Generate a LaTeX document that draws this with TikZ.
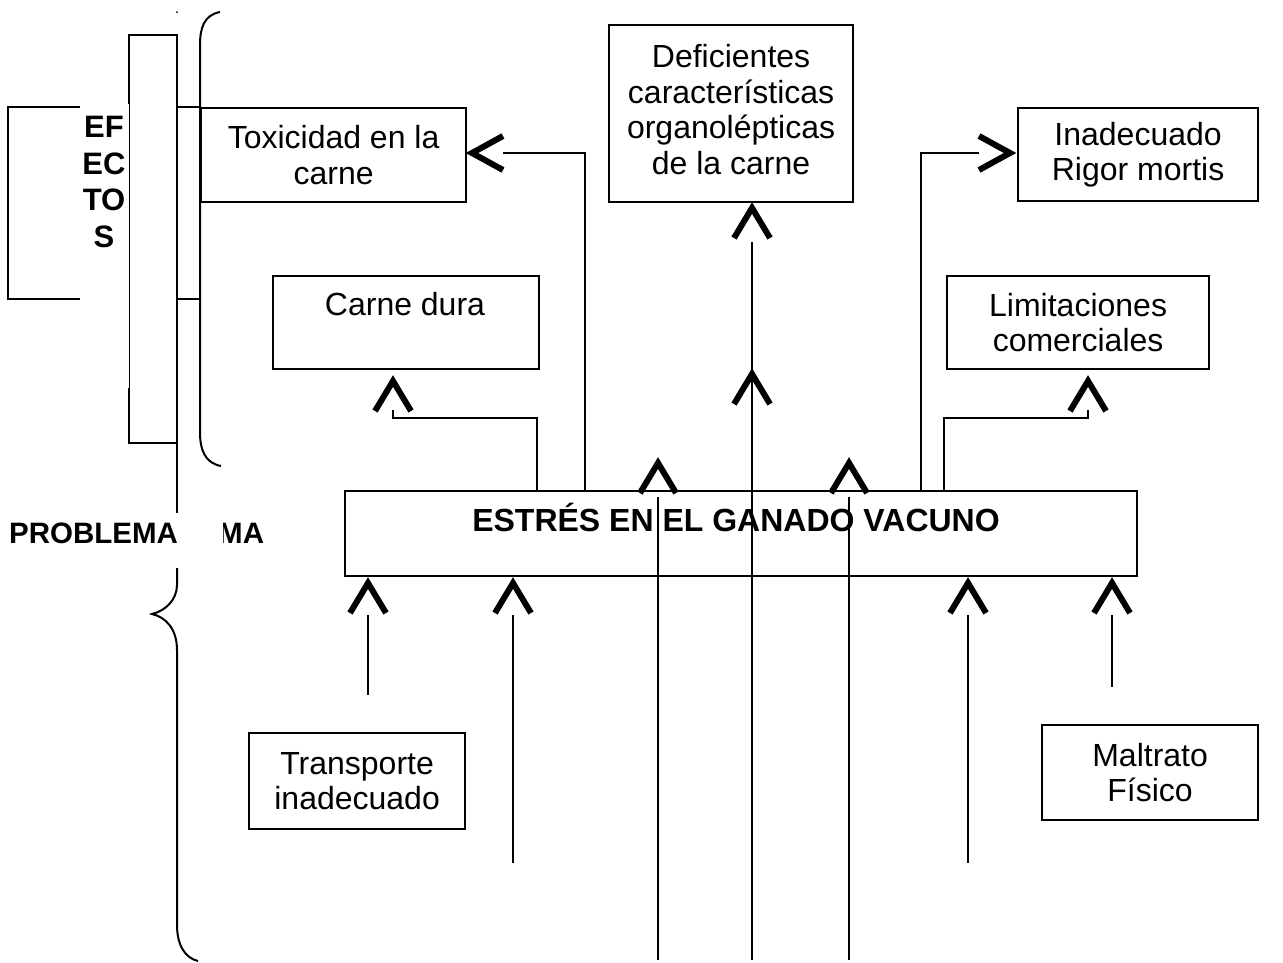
\documentclass[tikz,border=0pt]{standalone}
\usepackage{fontspec}
\setmainfont{Liberation Sans}
\newcommand{\chevU}[2]{\draw[chev] (#1-18,#2+35) -- (#1,#2+5) -- (#1+18,#2+35);}
\newcommand{\chevL}[2]{\draw[chev] (#1+36,#2-17) -- (#1+5,#2) -- (#1+36,#2+17);}
\newcommand{\chevR}[2]{\draw[chev] (#1-36,#2-17) -- (#1-5,#2) -- (#1-36,#2+17);}
\begin{document}
\begin{tikzpicture}[x=1pt,y=-1pt,
  box/.style={draw, line width=2.2pt, inner sep=0pt, anchor=north west},
  txt/.style={font=\fontsize{32}{35.5}\selectfont, align=center, inner sep=0pt},
  btxt/.style={font=\bfseries\fontsize{32}{36}\selectfont, inner sep=0pt},
  conn/.style={line width=2pt},
  bline/.style={line width=2pt},
  chev/.style={line width=6pt, line join=miter, line cap=butt}]
\useasboundingbox (0,0) rectangle (1283,962);

% ---------- left frame ----------
\draw[bline] (8,107) rectangle (129,299);
\draw[bline] (129,35) rectangle (177,443);
\fill[white] (80,104) rectangle (128.6,388);
\node[font=\bfseries\fontsize{31}{36.5}\selectfont, align=center, inner sep=0pt] (efectos) at (104,182) {EF\\EC\\TO\\S};
\fill (177,12) circle (1);
\draw[bline] (177,107) -- (200,107);
\draw[bline] (177,299) -- (200,299);
\draw[bline] (220,12) .. controls (204,15) and (200,28) .. (200,45) -- (200,432) .. controls (200,450) and (205,463) .. (221,466);
\draw[bline] (177,443) -- (177,515);
\draw[bline] (177,565) -- (177,585) .. controls (177,600) and (165,611) .. (152,614) .. controls (165,617) and (177,628) .. (177,650) -- (177,925) .. controls (177,945) and (185,958) .. (198,961);
\node[font=\bfseries\fontsize{29.5}{32}\selectfont, inner sep=0pt, anchor=base west] (ma) at (218,543) {MA};
\fill[white] (150,513) rectangle (223,568);
\node[font=\bfseries\fontsize{29.5}{32}\selectfont, inner sep=0pt, anchor=base west] (problema) at (9,543) {PROBLEMA};

% ---------- boxes ----------
\node[box, minimum width=265, minimum height=94] (tox) at (200,107) {};
\node[txt] (toxt) at (tox.center) {Toxicidad en la\\carne};
\node[box, minimum width=244, minimum height=177] (def) at (608,24) {};
\node[txt, yshift=4pt] (deft) at (def.center) {Deficientes\\características\\organolépticas\\de la carne};
\node[box, minimum width=240, minimum height=93] (rig) at (1017,107) {};
\node[txt] (rigt) at (rig.center) {Inadecuado\\Rigor mortis};
\node[box, minimum width=266, minimum height=93] (dura) at (272,275) {};
\node[txt, anchor=base] (durat) at (405,315) {Carne dura};
\node[box, minimum width=262, minimum height=93] (lim) at (946,275) {};
\node[txt] (limt) at (lim.center) {Limitaciones\\comerciales};
\node[box, minimum width=792, minimum height=85] (estres) at (344,490) {};
\node[btxt, anchor=base] (estrest) at (736,531) {ESTRÉS EN EL GANADO VACUNO};
\node[box, minimum width=216, minimum height=96] (trans) at (248,732) {};
\node[txt] (transt) at (trans.center) {Transporte\\inadecuado};
\node[box, minimum width=216, minimum height=95] (malt) at (1041,724) {};
\node[txt] (maltt) at (malt.center) {Maltrato\\Físico};

% ---------- connectors ----------
\coordinate (t1) at (585,153);  \coordinate (t2) at (503,153);
\draw[conn] (estres.north -| t1) -- (t1) -- (t2);
\chevL{467}{153}

\coordinate (d1) at (537,418);  \coordinate (d2) at (393,418); \coordinate (d3) at (393,410);
\draw[conn] (estres.north -| d1) -- (d1) -- (d2) -- (d3);
\chevU{393}{376}

\coordinate (r1) at (921,153);  \coordinate (r2) at (979,153);
\draw[conn] (estres.north -| r1) -- (r1) -- (r2);
\chevR{1015}{153}

\coordinate (l1) at (944,418);  \coordinate (l2) at (1088,418); \coordinate (l3) at (1088,410);
\draw[conn] (estres.north -| l1) -- (l1) -- (l2) -- (l3);
\chevU{1088}{376}

% long vertical lines
\coordinate (v1t) at (752,242); \coordinate (v1b) at (752,960);
\draw[conn] (v1t) -- (v1b);
\chevU{752}{203}
\chevU{752}{369}
\coordinate (v2t) at (658,497); \coordinate (v2b) at (658,960);
\draw[conn] (v2t) -- (v2b);
\chevU{658}{458}
\coordinate (v3t) at (849,497); \coordinate (v3b) at (849,960);
\draw[conn] (v3t) -- (v3b);
\chevU{849}{458}

% bottom arrows
\coordinate (b1t) at (368,615); \coordinate (b1b) at (368,695);
\draw[conn] (b1t) -- (b1b);
\chevU{368}{578}
\coordinate (b2t) at (513,615); \coordinate (b2b) at (513,863);
\draw[conn] (b2t) -- (b2b);
\chevU{513}{578}
\coordinate (b3t) at (968,615); \coordinate (b3b) at (968,863);
\draw[conn] (b3t) -- (b3b);
\chevU{968}{578}
\coordinate (b4t) at (1112,615); \coordinate (b4b) at (1112,687);
\draw[conn] (b4t) -- (b4b);
\chevU{1112}{578}
\end{tikzpicture}
\end{document}
